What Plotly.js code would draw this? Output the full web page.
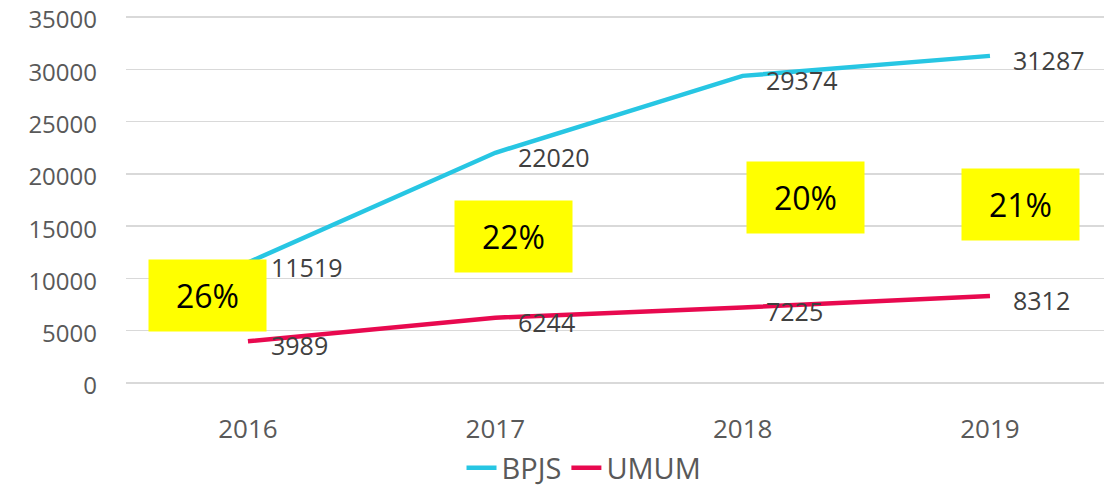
<!DOCTYPE html>
<html>
<head>
<meta charset="utf-8">
<script src="https://cdn.plot.ly/plotly-3.0.1.min.js"></script>
<style>html,body{margin:0;padding:0;background:#fff;}#chart{width:1104px;height:487px;}</style>
</head>
<body>
<div id="chart"></div>
<script>
const years = ["2016", "2017", "2018", "2019"];
const bpjs = [11519, 22020, 29374, 31287];
const umum = [3989, 6244, 7225, 8312];
const shareLabels = ["26%", "22%", "20%", "21%"];
const yTicks = [0, 5000, 10000, 15000, 20000, 25000, 30000, 35000];

const font = "'Open Sans', 'Noto Sans', sans-serif";
const cyan = "#27C6E3";
const crimson = "#E8094F";

const traces = [
  {x: years, y: bpjs, name: "BPJS", type: "scatter", mode: "lines",
   line: {color: cyan, width: 4.5}},
  {x: years, y: umum, name: "UMUM", type: "scatter", mode: "lines",
   line: {color: crimson, width: 4.5}}
];

const annotations = [];
function addLabels(vals) {
  vals.forEach((v, i) => annotations.push({
    x: i, y: v, xref: "x", yref: "y", text: String(v), showarrow: false,
    xanchor: "left", yanchor: "middle", xshift: 21, yshift: -4,
    font: {family: font, size: 25, color: "#404040"}
  }));
}
addLabels(bpjs);
addLabels(umum);

// yellow share boxes (positions in axis units)
const boxX = [-0.162, 1.072, 2.254, 3.124];
const boxY = [8368, 14058, 17740, 17070];
shareLabels.forEach((t, i) => annotations.push({
  x: boxX[i], y: boxY[i], xref: "x", yref: "y", text: t, showarrow: false,
  xanchor: "center", yanchor: "middle", width: 117, height: 71, borderpad: 0,
  bgcolor: "#FFFF00", align: "center", valign: "middle",
  font: {family: font, size: 32, color: "#000000"}
}));

const layout = {
  width: 1104, height: 487,
  margin: {l: 126, r: 0, t: 16, b: 104, autoexpand: false},
  paper_bgcolor: "#ffffff", plot_bgcolor: "#ffffff",
  showlegend: true,
  legend: {orientation: "h", xref: "container", yref: "container",
           x: 0.529, xanchor: "center", y: 0.039, yanchor: "middle",
           font: {family: font, size: 29, color: "#595959"}},
  xaxis: {type: "category", range: [-0.493, 3.461], showgrid: false, zeroline: false,
          showline: false, ticks: "", ticklabelstandoff: 28, automargin: false,
          tickfont: {family: font, size: 26, color: "#595959"}},
  yaxis: {range: [0, 35100], tickmode: "array", tickvals: yTicks, ticktext: yTicks.map(String),
          showgrid: true, gridcolor: "#D9D9D9", automargin: false, ticklabeloverflow: "allow",
          gridwidth: 1.5, zeroline: true, zerolinecolor: "#D9D9D9", zerolinewidth: 1.5,
          showline: false, ticks: "", ticklabelstandoff: 28, ticklabelshift: 3,
          tickfont: {family: font, size: 24, color: "#595959"}},
  annotations: annotations
};

Plotly.newPlot("chart", traces, layout, {displayModeBar: false, staticPlot: true});
</script>
</body>
</html>
